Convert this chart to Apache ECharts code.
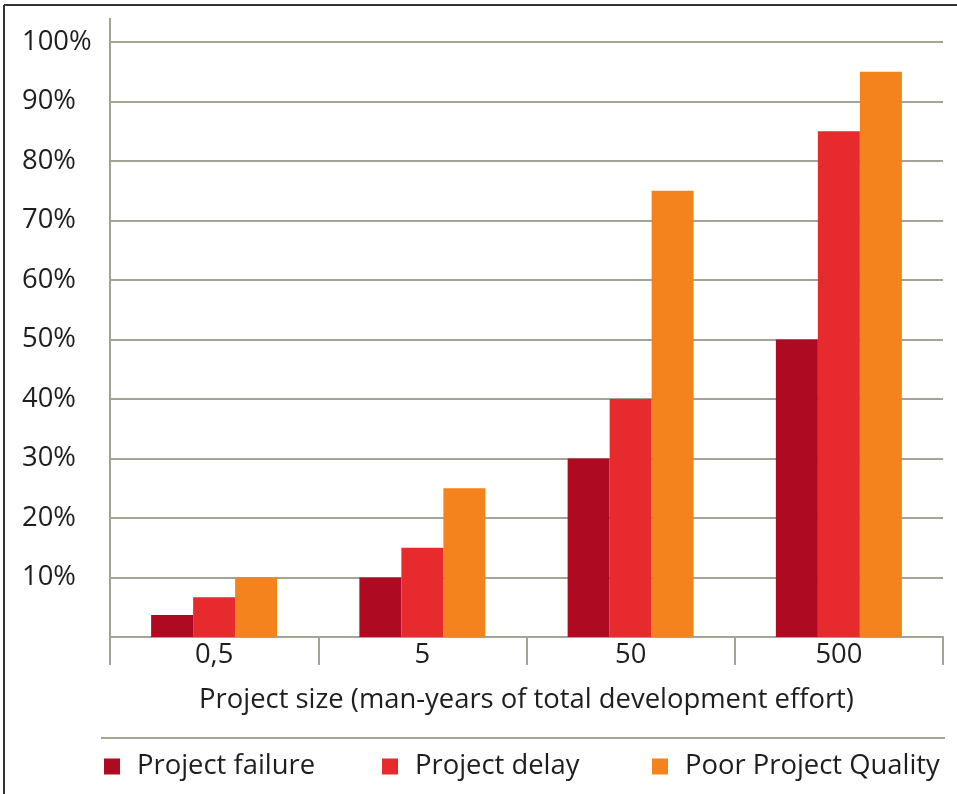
<!DOCTYPE html>
<html>
<head>
<meta charset="utf-8">
<script src="https://cdn.jsdelivr.net/npm/echarts@6/dist/echarts.min.js"></script>
<style>
	html, body { margin: 0; padding: 0; background: #fff; }
	#chart { width: 957px; height: 794px; }
</style>
</head>
<body>
<div id="chart"></div>
<script>
var categories = ['0,5', '5', '50', '500'];
var failure = [3.7, 10, 30, 50];
var delay = [6.7, 15, 40, 85];
var quality = [10, 25, 75, 95];
var seriesNames = ['Project failure', 'Project delay', 'Poor Project Quality'];
var yTicks = [0, 10, 20, 30, 40, 50, 60, 70, 80, 90, 100];

;(function(){
	var chart = echarts.init(document.getElementById('chart')),
		font = '"Open Sans", "Noto Sans", sans-serif',
		fontSize = 27.4,
		gridColor = '#a3a396',
		textColor = '#1e1e1e',
		colors = ['#ae0a22', '#e62a2d', '#f4821d'];

	// one legend per item so each can sit where the original puts it
	var legendLeft = [104, 382, 652];
	var legends = seriesNames.map(function(name, i){
		return {
			data: [name],
			left: legendLeft[i],
			top: 753,
			padding: 0,
			icon: 'rect',
			itemWidth: 16,
			itemHeight: 16,
			selectedMode: false,
			textStyle: {
				fontFamily: font,
				fontSize: fontSize,
				color: textColor,
				padding: [0, 0, 0, 12]
			}
		};
	});

	var option = {
		color: colors,
		animation: false,
		textStyle: { fontFamily: font },
		legend: legends,
		grid: {
			left: 110,
			right: 14,
			top: 42,
			bottom: 157
		},
		xAxis: {
			type: 'category',
			data: categories,
			boundaryGap: true,
			name: 'Project size (man-years of total development effort)',
			nameLocation: 'middle',
			nameGap: 50,
			nameTextStyle: { fontSize: fontSize, color: textColor, fontFamily: font },
			axisLine: { show: true, lineStyle: { color: gridColor, width: 2 } },
			axisTick: {
				show: true,
				inside: false,
				length: 28,
				alignWithLabel: false,
				lineStyle: { color: gridColor, width: 2 }
			},
			axisLabel: {
				fontSize: fontSize,
				color: textColor,
				fontFamily: font,
				margin: 5
			}
		},
		yAxis: {
			type: 'value',
			min: yTicks[0],
			max: yTicks[yTicks.length - 1],
			interval: 10,
			axisLine: { show: false },
			axisTick: { show: false },
			splitLine: { lineStyle: { color: gridColor, width: 2 } },
			axisLabel: {
				fontSize: fontSize,
				color: textColor,
				fontFamily: font,
				align: 'left',
				margin: 88,
				formatter: function(v){ return v === 0 ? '' : v + '%'; }
			}
		},
		graphic: [
			// y axis line runs past the plot at both ends
			{ type: 'line', shape: { x1: 110, y1: 18, x2: 110, y2: 665 }, style: { stroke: gridColor, lineWidth: 2 } },
			// separator above the legend
			{ type: 'line', shape: { x1: 101, y1: 738, x2: 945, y2: 738 }, style: { stroke: gridColor, lineWidth: 2 } },
			// frame
			{ type: 'line', shape: { x1: 4, y1: 5, x2: 957, y2: 5 }, style: { stroke: '#333', lineWidth: 2 } },
			{ type: 'line', shape: { x1: 4, y1: 5, x2: 4, y2: 794 }, style: { stroke: '#333', lineWidth: 2 } }
		],
		series: [
			{ name: seriesNames[0], type: 'bar', data: failure, barWidth: 42, barGap: '0%' },
			{ name: seriesNames[1], type: 'bar', data: delay, barWidth: 42, barGap: '0%' },
			{ name: seriesNames[2], type: 'bar', data: quality, barWidth: 42, barGap: '0%' }
		]
	};
	chart.setOption(option);
}());
</script>
</body>
</html>
